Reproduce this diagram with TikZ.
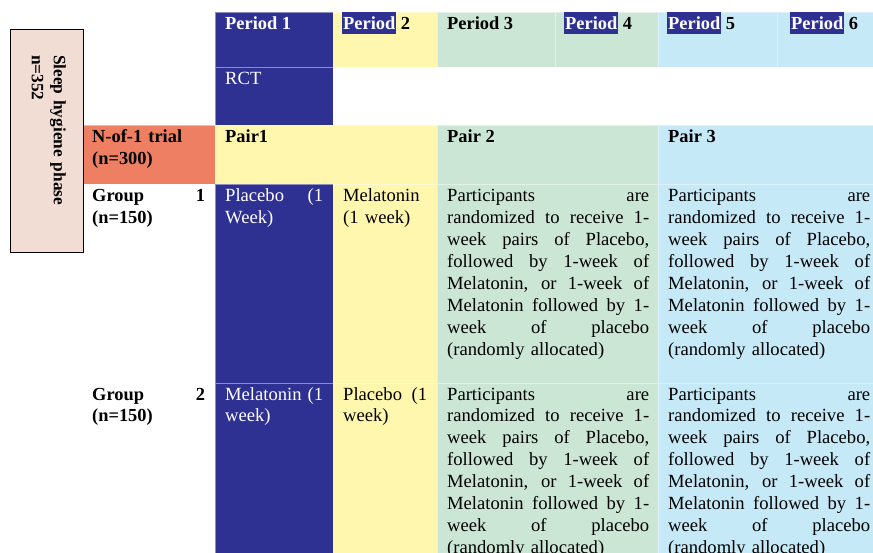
\documentclass[tikz,border=0pt]{standalone}
\usepackage{fontspec}
\setmainfont{Liberation Serif}
\definecolor{dblue}{HTML}{2E3192}
\definecolor{cyel}{HTML}{FFF7AE}
\definecolor{cgrn}{HTML}{CCE6D6}
\definecolor{cblu}{HTML}{C6E9F8}
\definecolor{csal}{HTML}{EE7F63}
\definecolor{cpink}{HTML}{F2DDD5}
\newcommand\jl[2]{\leavevmode\hbox to #1{\spaceskip=4.6pt plus 100pt\relax #2}}
\newcommand\hlp[1]{{\setlength{\fboxsep}{0pt}\colorbox{dblue}{\rule[-4pt]{0pt}{22pt}\hspace{1pt}\textcolor{white}{#1}\hspace{1pt}}}}
\newcommand\parttext{\jl{202pt}{Participants are}\\\jl{202pt}{randomized to receive 1-}\\\jl{202pt}{week pairs of Placebo,}\\\jl{202pt}{followed by 1-week of}\\\jl{202pt}{Melatonin, or 1-week of}\\\jl{202pt}{Melatonin followed by 1-}\\\jl{202pt}{week of placebo}\\(randomly allocated)}
\begin{document}
\begin{tikzpicture}[x=1pt,y=-1pt,
  cell/.style={draw=white,draw opacity=0.45,line width=0.6pt},
  txt/.style={anchor=base west,inner sep=0pt,align=left,font=\fontsize{18.6}{21.9}\selectfont},
  btxt/.style={txt,font=\fontsize{18.4}{21.9}\selectfont\bfseries}]
\useasboundingbox (0,0) rectangle (873,553);
\clip (0,0) rectangle (873,553);
% header row
\fill[cell,fill=dblue] (215,12) rectangle (333,67);
\fill[cell,fill=cyel] (333,12) rectangle (437,67);
\fill[cell,fill=cgrn] (437,12) rectangle (555,67);
\fill[cell,fill=cgrn] (555,12) rectangle (658,67);
\fill[cell,fill=cblu] (658,12) rectangle (777,67);
\fill[cell,fill=cblu] (777,12) rectangle (890,67);
% RCT row
\fill[cell,fill=dblue] (215,67) rectangle (333,125);
% pair row
\fill[cell,fill=csal] (83,125) rectangle (215,184);
\fill[cell,fill=cyel] (215,125) rectangle (437,184);
\fill[cell,fill=cgrn] (437,125) rectangle (658,184);
\fill[cell,fill=cblu] (658,125) rectangle (890,184);
% group rows
\foreach \ya/\yb in {184/383,383/600}{
  \fill[cell,fill=dblue] (215,\ya) rectangle (333,\yb);
  \fill[cell,fill=cyel] (333,\ya) rectangle (437,\yb);
  \fill[cell,fill=cgrn] (437,\ya) rectangle (658,\yb);
  \fill[cell,fill=cblu] (658,\ya) rectangle (890,\yb);
}
% left box
\node[draw=black,line width=1.2pt,fill=cpink,minimum width=73pt,minimum height=223pt,inner sep=0pt,anchor=north west] (sleep) at (10,29) {};
\node[inner sep=0pt,align=left,font=\fontsize{17.3}{22}\selectfont\bfseries,anchor=north west,rotate=-90,text width=160pt] (sleept) at (69.5,55) {\strut Sleep hygiene phase\\ n=352};
% header texts
\node[btxt,text=white] (p1) at (225,30) {Period 1};
\node[btxt] (p2) at (342,30) {\hlp{Period} 2};
\node[btxt] (p3) at (447,30) {Period 3};
\node[btxt] (p4) at (564,30) {\hlp{Period} 4};
\node[btxt] (p5) at (667,30) {\hlp{Period} 5};
\node[btxt] (p6) at (790,30) {\hlp{Period} 6};
\node[txt,text=white] (rct) at (225,85) {RCT};
% pair row texts
\node[btxt,text width=112pt] (nof1) at (92,143) {N-of-1 trial\\(n=300)};
\node[btxt] (pair1) at (225,143) {Pair1};
\node[btxt] (pair2) at (447,143) {Pair 2};
\node[btxt] (pair3) at (668,143) {Pair 3};
% group 1
\node[btxt,text width=113pt] (g1) at (92,202) {\jl{113pt}{Group 1}\\(n=150)};
\node[txt,text=white,text width=98pt] (g1a) at (225,202) {\jl{98pt}{Placebo (1}\\Week)};
\node[txt,text width=84pt] (g1b) at (343,202) {Melatonin\\(1 week)};
\node[txt,text width=202pt] (g1c) at (447,202) {\parttext};
\node[txt,text width=202pt] (g1d) at (668,202) {\parttext};
% group 2
\node[btxt,text width=113pt] (g2) at (92,400) {\jl{113pt}{Group 2}\\(n=150)};
\node[txt,text=white,text width=98pt] (g2a) at (225,400) {\jl{98pt}{Melatonin (1}\\week)};
\node[txt,text width=84pt] (g2b) at (343,400) {\jl{84pt}{Placebo (1}\\week)};
\node[txt,text width=202pt] (g2c) at (447,400) {\parttext};
\node[txt,text width=202pt] (g2d) at (668,400) {\parttext};
\end{tikzpicture}
\end{document}
